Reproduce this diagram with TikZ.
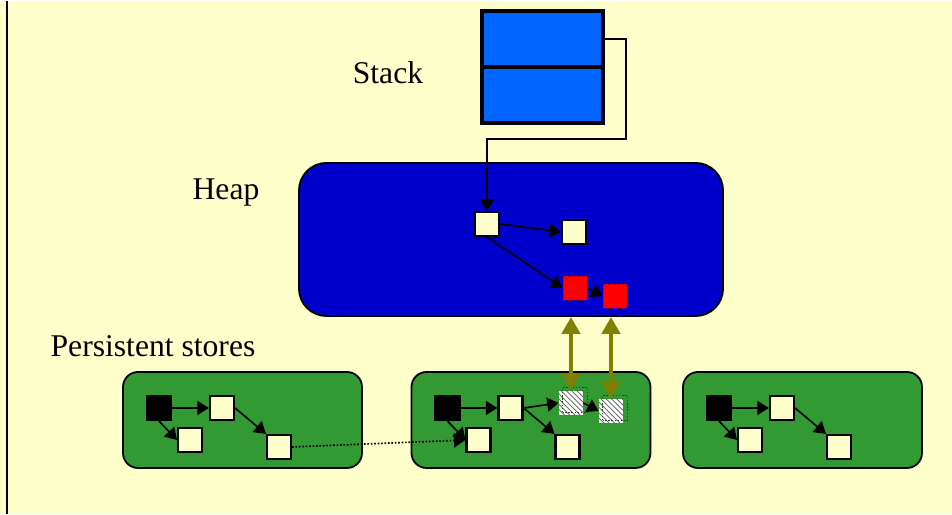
\documentclass[tikz,border=0pt]{standalone}
\usepackage{fontspec}
\setmainfont{Liberation Serif}
\usetikzlibrary{arrows.meta,patterns,positioning}
\definecolor{paperYellow}{RGB}{255,255,204}
\definecolor{stackBlue}{RGB}{0,102,255}
\definecolor{heapBlue}{RGB}{0,0,204}
\definecolor{storeGreen}{RGB}{51,153,51}
\definecolor{linkOlive}{RGB}{128,128,0}
\definecolor{hatchGray}{RGB}{90,90,90}

\begin{document}
\begin{tikzpicture}[x=0.2mm, y=-0.2mm,
    lbl/.style={font=\fontsize{18}{22}\selectfont},
    cell/.style={rectangle, draw, line width=1.8pt, fill=stackBlue,
      minimum width=24.2mm, minimum height=11.2mm},
    obj/.style={rectangle, draw, line width=1.2pt, fill=paperYellow,
      minimum size=4.8mm, inner sep=0pt},
    root/.style={obj, fill=black},
    hot/.style={rectangle, fill=red, draw=red!60!black, densely dotted,
      minimum size=4.8mm, inner sep=0pt},
    cached/.style={rectangle, inner sep=0pt, minimum size=4.8mm,
      preaction={fill=white}, pattern=north west lines, pattern color=hatchGray},
    store/.style={rectangle, rounded corners=3mm, draw, line width=1pt,
      fill=storeGreen, minimum width=47.8mm, minimum height=19.2mm},
    ptr/.style={-{Triangle[length=2.3mm, width=2.8mm]}, line width=0.95pt},
    sync/.style={{Triangle[length=3.4mm, width=3.6mm]}-{Triangle[length=3.4mm, width=3.6mm]},
      line width=2.7pt, linkOlive}]
  % Paper and left edge
  \fill[paperYellow] (0,0) rectangle (952,513);
  \draw[line width=1.1pt] (7,0) -- (7,513);
  % Stack
  \node[cell] (top) at (542.5,38) {};
  \node[cell] (bottom) at (542.5,94) {};
  \node[lbl] (stackLbl) at (388,72) {Stack};
  % Heap
  \node[rectangle, rounded corners=5.5mm, draw, line width=1.1pt, fill=heapBlue,
        minimum width=84.8mm, minimum height=30.6mm]
    (heap) at (511,238.5) {};
  \node[lbl] (heapLbl) at (226,192) {Heap};
  \node[obj] (h1) at (487,223) {};
  \node[obj] (h2) at (574,231) {};
  \node[hot] (r1) at (575,287) {};
  \node[hot] (r2) at (615,295) {};
  \draw[ptr] (top.east) -| (626,138) -| (h1.north);
  \draw[ptr] (h1.east) -- (h2.west);
  \draw[ptr] (h1.south) -- (r1.west);
  \draw[ptr] (r1.east) -- (r2.west);
  % Persistent stores
  \node[lbl] (storesLbl) at (153,345) {Persistent stores};
  \foreach \i/\x in {1/242.5, 2/531, 3/802.5} {
    \node[store] (store\i) at (\x,419) {};
    \node[root] (k\i) at (\x-83.5,407) {};
    \node[obj] (a\i) at (\x-20.5,407) {};
    \node[obj] (b\i) at (\x-52.5,439) {};
    \node[obj] (c\i) at (\x+36.5,446) {};
    \draw[ptr] (k\i.east) -- (a\i.west);
    \draw[ptr] (k\i.south) -- (b\i.west);
    \draw[ptr] (a\i.east) -- (c\i.north west);
  }
  % Cached copies in the middle store
  \node[cached] (s1) at (571,402) {};
  \node[cached] (s2) at (611,410) {};
  \draw[storeGreen!50!black, densely dotted, line width=0.8pt]
    ([shift={(4,-3)}]s1.south west) rectangle ([shift={(4,-3)}]s1.north east);
  \draw[storeGreen!50!black, densely dotted, line width=0.8pt]
    ([shift={(4,-3)}]s2.south west) rectangle ([shift={(4,-3)}]s2.north east);
  \draw[ptr] (a2.east) -- (s1.west);
  \draw[ptr] (s1.east) -- (s2.west);
  \draw[ptr, densely dotted] (c1.east) -- (b2.west);
  % Heap <-> store
  \draw[sync] (s1.north |- heap.south) -- (s1.north);
  \draw[sync] (s2.north |- heap.south) -- (s2.north);
\end{tikzpicture}
\end{document}
